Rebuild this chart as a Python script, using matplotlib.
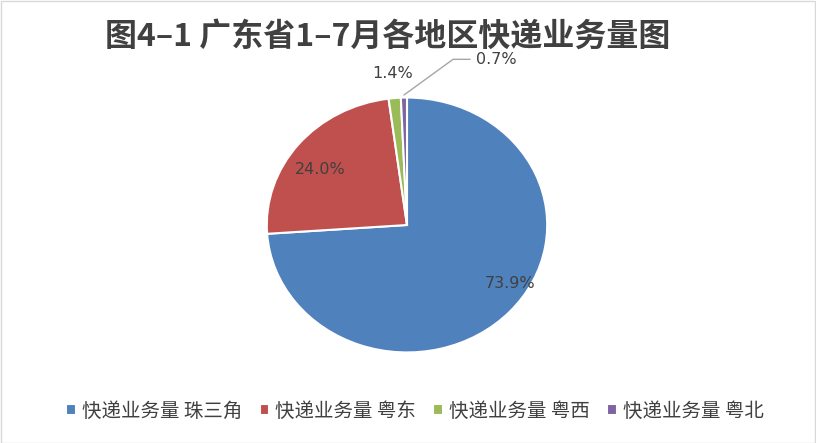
import matplotlib
matplotlib.use("Agg")
import matplotlib.pyplot as plt
import numpy as np
from matplotlib.patches import Rectangle

plt.rcParams['font.family'] = ['Noto Sans CJK SC', 'DejaVu Sans']

title = "图4–1 广东省1–7月各地区快递业务量图"
categories = ["快递业务量 珠三角", "快递业务量 粤东", "快递业务量 粤西", "快递业务量 粤北"]
values = [73.9, 24.0, 1.4, 0.7]
labels = ["73.9%", "24.0%", "1.4%", "0.7%"]
colors = ["#4F81BD", "#C0504D", "#9BBB59", "#8064A2"]

W, H = 816, 443
fig = plt.figure(figsize=(W / 100, H / 100), dpi=100)
fig.patches.append(Rectangle((0.5 / W, 0.5 / H), 1 - 1.5 / W, 1 - 1.5 / H,
                             transform=fig.transFigure, fill=False,
                             edgecolor="#D9D9D9", linewidth=1))

ax = fig.add_axes([264 / W, (H - 355) / H, 286 / W, 260 / H])
wedges, _ = ax.pie(values, colors=colors, startangle=90, counterclock=False,
                   radius=1.0,
                   wedgeprops=dict(edgecolor="white", linewidth=1.5))
ax.set_aspect('auto')
ax.set_xlim(-1.02, 1.02)
ax.set_ylim(-1.02, 1.02)

txt_color = "#404040"
# label placement (radius, angle offset in deg) per slice
place = [(0.87, 11), (0.76, 4), (1.19, 0), None]
for w, lab, p in zip(wedges, labels, place):
    mid = np.deg2rad((w.theta1 + w.theta2) / 2)
    if p is not None:
        r, off = p
        a = mid + np.deg2rad(off)
        ax.text(r * np.cos(a), r * np.sin(a), lab, ha="center", va="center",
                fontsize=11.5, color=txt_color, family=['DejaVu Sans'])
    else:
        x0, y0 = 1.0 * np.cos(mid), 1.0 * np.sin(mid)
        ax.annotate(lab, xy=(x0, y0 + 0.02), xytext=(0.49, 1.30),
                    ha="left", va="center", fontsize=11.5, color=txt_color,
                    family=['DejaVu Sans'],
                    arrowprops=dict(arrowstyle="-", color="#A6A6A6", lw=1,
                                    shrinkA=2, shrinkB=0,
                                    connectionstyle="angle,angleA=0,angleB=36,rad=0"),
                    annotation_clip=False)

fig.text(388 / W, 1 - 37 / H, title, ha="center", va="center", fontsize=23,
         fontweight="bold", color="#404040")

fig.legend(wedges, categories, loc="center", bbox_to_anchor=(415 / W, 1 - 411 / H),
           ncol=4, frameon=False, fontsize=14, handlelength=0.5, handleheight=0.5,
           handletextpad=0.3, columnspacing=0.9, labelcolor=txt_color)

fig.savefig("out.png", dpi=100)
